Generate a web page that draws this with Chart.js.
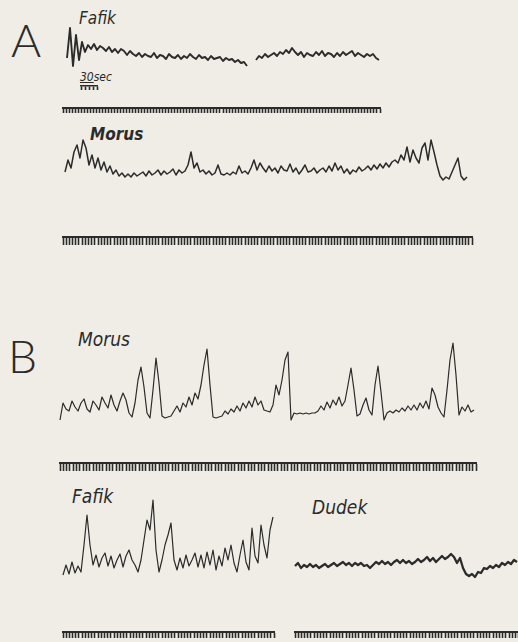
<!DOCTYPE html>
<html>
<head>
<meta charset="utf-8">
<script src="https://cdn.jsdelivr.net/npm/chart.js@4.4.0/dist/chart.umd.min.js"></script>
<style>
  html, body { margin: 0; padding: 0; background: #efede5; }
  #page { position: relative; width: 518px; height: 642px; overflow: hidden; background: #efede5; }
  .box { position: absolute; }
  .lbl { position: absolute; font-family: "DejaVu Sans Condensed", "DejaVu Sans", sans-serif; font-stretch: condensed;
         font-style: italic; color: #2b2b2b; white-space: nowrap; line-height: 1; }
  .big { position: absolute; font-family: "Lato", "DejaVu Sans", sans-serif; font-weight: 300; color: #2b2b2b; line-height: 1; }
</style>
</head>
<body>
<div id="page">
  <div class="big" style="left:11px;top:17px;font-size:46px;">A</div>
  <div class="lbl" style="left:79px;top:10px;font-size:17px;">Fafik</div>
  <div class="lbl" style="left:80px;top:71px;font-size:12px;"><span style="text-decoration:underline">30</span>sec</div>
  <div class="lbl" style="left:90px;top:126px;font-size:17px;font-weight:bold;">Morus</div>
  <div class="big" style="left:8px;top:333px;font-size:46px;">B</div>
  <div class="lbl" style="left:78px;top:330px;font-size:19px;">Morus</div>
  <div class="lbl" style="left:72px;top:487px;font-size:19px;">Fafik</div>
  <div class="lbl" style="left:312px;top:498px;font-size:19px;">Dudek</div>
</div>
<script>
// traces: height of the pen above the bottom of each strip, one sample every 3 px
var fafikA = [12, 42, 4, 35, 10, 28, 18, 25, 21, 26, 20, 24, 22, 19, 23, 18, 21, 17, 21, 19,
  15, 19, 16, 14, 17, 13, 16, 14, 13, 17, 12, 15, 14, 11, 16, 13, 12, 15, 11, 14,
  12, 16, 13, 11, 15, 12, 13, 10, 14, 11, 12, 13, 9, 12, 10, 11, 8, 10, 7, 8,
  4, null, null, 10, 14, 12, 16, 13, 15, 17, 14, 18, 16, 20, 17, 22, 18, 15, 18, 13,
  17, 15, 14, 18, 15, 19, 14, 17, 16, 13, 17, 14, 18, 15, 17, 19, 14, 17, 15, 13,
  16, 14, 16, 12, 10];

var morusA = [13, 25, 17, 33, 40, 27, 45, 37, 20, 30, 17, 27, 15, 23, 13, 19, 11, 15, 9, 12,
  8, 11, 8, 12, 9, 11, 13, 9, 14, 10, 12, 15, 10, 14, 11, 13, 16, 10, 15, 12,
  14, 20, 33, 17, 22, 13, 15, 11, 14, 10, 12, 20, 11, 10, 12, 10, 13, 11, 19, 12,
  14, 11, 17, 25, 15, 22, 17, 13, 19, 14, 17, 12, 19, 15, 14, 21, 13, 17, 11, 15,
  20, 13, 14, 17, 12, 15, 17, 13, 19, 14, 22, 15, 19, 12, 16, 11, 15, 13, 18, 14,
  16, 19, 15, 20, 16, 21, 17, 22, 18, 23, 25, 22, 30, 25, 38, 23, 35, 27, 22, 37,
  42, 25, 45, 33, 20, 9, 5, 8, 6, 13, 20, 27, 9, 5, 8];

var morusB = [5, 22, 16, 14, 24, 18, 14, 22, 26, 16, 13, 24, 20, 15, 28, 22, 17, 30, 20, 14,
  24, 32, 25, 12, 8, 22, 45, 58, 38, 12, 7, 35, 67, 42, 9, 7, 8, 9, 14, 19,
  13, 22, 18, 28, 20, 32, 26, 40, 60, 76, 40, 8, 7, 8, 9, 14, 11, 16, 13, 19,
  14, 22, 17, 24, 18, 28, 20, 24, 15, 14, 13, 20, 40, 30, 45, 65, 73, 5, 12, 11,
  12, 11, 12, 11, 12, 12, 14, 19, 15, 23, 17, 25, 20, 28, 19, 24, 40, 57, 35, 9,
  11, 20, 27, 15, 10, 40, 59, 33, 5, 12, 14, 12, 15, 13, 17, 14, 19, 15, 20, 15,
  22, 17, 24, 16, 37, 30, 18, 12, 8, 35, 65, 82, 50, 10, 18, 14, 20, 13, 15];

var fafikB = [7, 17, 8, 20, 9, 16, 10, 37, 67, 37, 17, 27, 15, 24, 29, 16, 26, 14, 22, 28,
  15, 26, 32, 22, 17, 10, 22, 42, 62, 52, 82, 32, 10, 22, 37, 47, 59, 22, 12, 24,
  14, 27, 16, 22, 29, 15, 27, 14, 30, 17, 32, 12, 26, 16, 34, 22, 37, 19, 10, 27,
  42, 20, 12, 54, 26, 19, 57, 37, 24, 52, 65];

var dudek = [14, 17, 12, 15, 13, 16, 13, 15, 12, 14, 16, 13, 15, 17, 14, 16, 18, 15, 17, 14,
  17, 15, 17, 14, 15, 12, 15, 18, 16, 19, 16, 18, 15, 18, 20, 17, 20, 17, 19, 16,
  18, 21, 18, 20, 23, 19, 22, 18, 21, 24, 21, 23, 26, 23, 17, 22, 12, 6, 4, 6,
  3, 8, 7, 12, 11, 14, 12, 15, 13, 17, 15, 18, 16, 20, 18];

// time marker combs: number of intervals on each
var marksFafikA = 105;
var marksMorusA = 128;
var marksMorusB = 126;
var marksFafikB = 66;
var marksDudek = 72;
var marksScale = 4;

var ink = '#2b2b2b';
var step = 3;
var page = document.getElementById('page');

function addBox(left, top, width, height) {
  var div = document.createElement('div');
  div.className = 'box';
  div.style.left = left + 'px';
  div.style.top = top + 'px';
  var canvas = document.createElement('canvas');
  canvas.width = width;
  canvas.height = height;
  div.appendChild(canvas);
  page.appendChild(div);
  return canvas;
}

function drawTrace(values, left, top, height, lineWidth) {
  var pad = 3;
  var width = (values.length - 1) * step;
  var canvas = addBox(left - pad, top - pad, width + 2 * pad, height + 2 * pad);
  var labels = values.map(function (v, i) { return i; });
  new Chart(canvas, {
    type: 'line',
    data: {
      labels: labels,
      datasets: [{
        data: values,
        borderColor: ink,
        borderWidth: lineWidth,
        borderJoinStyle: 'round',
        pointRadius: 0,
        tension: 0,
        spanGaps: false,
        clip: false
      }]
    },
    options: {
      responsive: false,
      animation: false,
      events: [],
      layout: { padding: pad },
      plugins: { legend: { display: false }, tooltip: { enabled: false } },
      scales: {
        x: { display: false, offset: false },
        y: { display: false, min: 0, max: height }
      }
    }
  });
}

function drawMarks(count, left, lineY, width, tickLen, borderW) {
  var canvas = addBox(left - 2, lineY - 4, width + 4, tickLen + 6);
  new Chart(canvas, {
    type: 'line',
    data: { datasets: [] },
    options: {
      responsive: false,
      animation: false,
      events: [],
      layout: { padding: 2 },
      plugins: { legend: { display: false }, tooltip: { enabled: false } },
      scales: {
        x: {
          type: 'linear',
          position: 'bottom',
          min: 0,
          max: count,
          ticks: { stepSize: 1, display: false, autoSkip: false },
          grid: { drawOnChartArea: false, drawTicks: true, tickLength: tickLen, tickColor: ink, tickWidth: 1.6 },
          border: { display: true, color: ink, width: borderW }
        },
        y: { display: false }
      }
    }
  });
}

drawTrace(fafikA, 67, 25, 45, 1.9);
drawTrace(morusA, 65, 135, 50, 1.5);
drawTrace(morusB, 60, 340, 85, 1.2);
drawTrace(fafikB, 63, 492, 90, 1.2);
drawTrace(dudek, 295, 545, 35, 2.3);

drawMarks(marksScale, 81, 86, 16, 4, 1.5);
drawMarks(marksFafikA, 63, 108, 317, 5, 2);
drawMarks(marksMorusA, 63, 237, 409, 8, 2);
drawMarks(marksMorusB, 60, 463, 416, 8, 2);
drawMarks(marksFafikB, 63, 632, 211, 6, 2);
drawMarks(marksDudek, 295, 632, 230, 6, 2);
</script>
</body>
</html>
